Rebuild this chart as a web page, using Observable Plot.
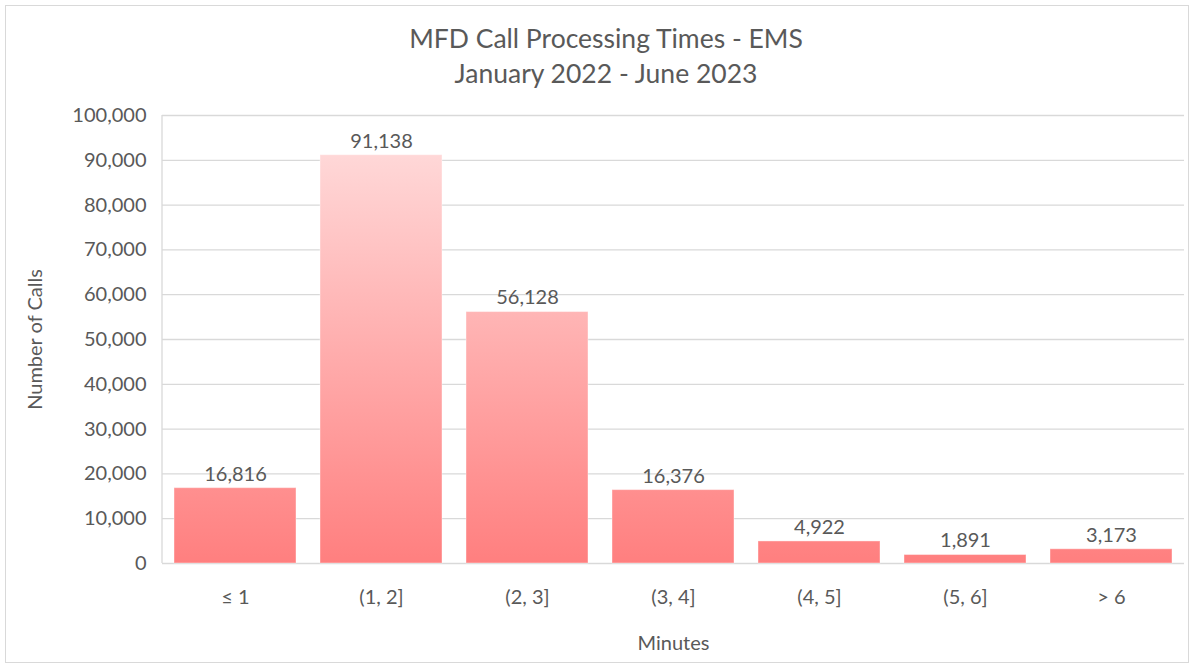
<!DOCTYPE html>
<html><head><meta charset="utf-8">
<script src="https://cdn.jsdelivr.net/npm/d3@7"></script>
<script src="https://cdn.jsdelivr.net/npm/@observablehq/plot@0.6"></script>
<style>
html,body{margin:0;padding:0;background:#fff;overflow:hidden;}
#frame{position:absolute;left:5px;top:5px;width:1184px;height:658px;border:1px solid #d9d9d9;box-sizing:border-box;}
#title{position:absolute;left:0;top:0;width:1194px;height:100px;font-family:Lato,"Open Sans",sans-serif;color:#595959;text-align:center;font-size:26.5px;line-height:35px;}
#title div{position:relative;left:9px;}
#chart{position:absolute;left:0;top:100px;}
</style></head>
<body>
<div id="frame"></div>
<div id="title"><div style="padding-top:21px">MFD Call Processing Times - EMS</div><div>January 2022 - June 2023</div></div>
<div id="chart"></div>
<script>
const categories = ["≤ 1", "(1, 2]", "(2, 3]", "(3, 4]", "(4, 5]", "(5, 6]", "> 6"];
const calls = [16816, 91138, 56128, 16376, 4922, 1891, 3173];
const yTicks = d3.range(0, 100001, 10000);

const data = categories.map((c, i) => ({category: c, calls: calls[i]}));
const fmt = d3.format(",");

const plot = Plot.plot({
  width: 1194,
  height: 565,
  marginTop: 15,
  marginBottom: 102,
  marginLeft: 162,
  marginRight: 10,
  style: {fontFamily: "Lato, 'Open Sans', sans-serif", color: "#595959", background: "transparent"},
  x: {domain: categories, paddingInner: 0.165, paddingOuter: 0.0825, label: null},
  y: {domain: [0, 100000], label: null},
  marks: [
    () => {
      const ns = "http://www.w3.org/2000/svg";
      const defs = document.createElementNS(ns, "defs");
      defs.innerHTML = `<linearGradient id="barGrad" gradientUnits="userSpaceOnUse" x1="0" y1="463" x2="0" y2="15">
        <stop offset="0" stop-color="#ff7f7f"/>
        <stop offset="1" stop-color="#ffe0e0"/></linearGradient>`;
      return defs;
    },
    Plot.gridY(yTicks, {stroke: "#d9d9d9", strokeOpacity: 1, strokeWidth: 1.3}),
    (index, scales, values, dims) => {
      const ns = "http://www.w3.org/2000/svg";
      const line = document.createElementNS(ns, "line");
      line.setAttribute("x1", dims.marginLeft);
      line.setAttribute("x2", dims.marginLeft);
      line.setAttribute("y1", scales.y(0));
      line.setAttribute("y2", scales.y(100000));
      line.setAttribute("stroke", "#d9d9d9");
      line.setAttribute("stroke-width", 1.3);
      return line;
    },
    Plot.barY(data, {x: "category", y: "calls", fill: "url(#barGrad)", stroke: "#ffffff", strokeOpacity: 0.4, strokeWidth: 1}),
    Plot.text(data, {x: "category", y: "calls", text: d => fmt(d.calls), dy: -14, fontSize: 20, fill: "#595959"}),
    Plot.axisY(yTicks, {tickSize: 0, tickPadding: 16, tickFormat: d => fmt(d), fontSize: 20, color: "#595959", label: null}),
    Plot.axisX({tickSize: 0, tickPadding: 26, fontSize: 20, color: "#595959", label: null}),
    Plot.text(["Minutes"], {frameAnchor: "bottom", dy: 86, fontSize: 20, fill: "#595959"}),
    Plot.text(["Number of Calls"], {frameAnchor: "left", textAnchor: "middle", dx: -127, rotate: -90, fontSize: 20, fill: "#595959"})
  ]
});
document.getElementById("chart").appendChild(plot);
</script>
</body></html>
